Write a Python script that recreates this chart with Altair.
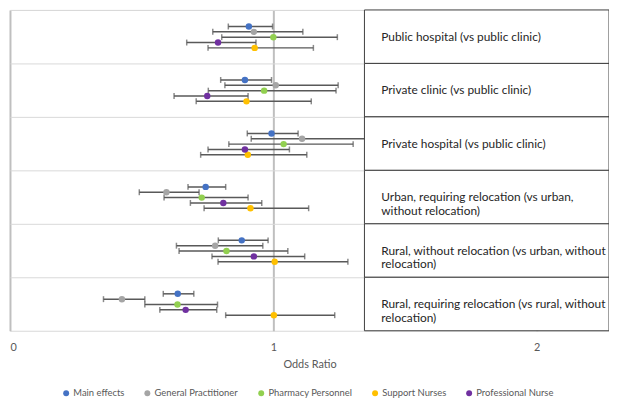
import altair as alt
import pandas as pd

rows = [
    "Public hospital (vs public clinic)",
    "Private clinic (vs public clinic)",
    "Private hospital (vs public clinic)",
    "Urban, requiring relocation (vs urban, without relocation)",
    "Rural, without relocation (vs urban, without relocation)",
    "Rural, requiring relocation (vs rural, without relocation)",
]
row_text = [
    "Public hospital (vs public clinic)",
    "Private clinic (vs public clinic)",
    "Private hospital (vs public clinic)",
    "Urban, requiring relocation (vs urban,\nwithout relocation)",
    "Rural, without relocation (vs urban, without\nrelocation)",
    "Rural, requiring relocation (vs rural, without\nrelocation)",
]

series = ["Main effects", "General Practitioner", "Pharmacy Personnel",
          "Support Nurses", "Professional Nurse"]
colors = ["#4472C4", "#A5A5A5", "#92D050", "#FFC000", "#7030A0"]
stack_order = ["Main effects", "General Practitioner", "Pharmacy Personnel",
               "Professional Nurse", "Support Nurses"]

# odds ratios and CI per series, one value per row (top to bottom)
main_or = [0.907, 0.892, 0.993, 0.743, 0.880, 0.637]
main_lo = [0.829, 0.800, 0.901, 0.676, 0.791, 0.582]
main_hi = [0.997, 0.993, 1.094, 0.819, 0.980, 0.698]

gp_or = [0.926, 1.009, 1.109, 0.594, 0.779, 0.425]
gp_lo = [0.770, 0.816, 0.916, 0.491, 0.632, 0.355]
gp_hi = [1.112, 1.246, 1.400, 0.718, 0.960, 0.512]

ph_or = [1.000, 0.965, 1.039, 0.728, 0.822, 0.636]
ph_lo = [0.804, 0.753, 0.831, 0.585, 0.642, 0.512]
ph_hi = [1.243, 1.238, 1.303, 0.904, 1.055, 0.788]

sn_or = [0.929, 0.898, 0.903, 0.913, 1.005, 1.002]
sn_lo = [0.752, 0.707, 0.724, 0.737, 0.790, 0.819]
sn_hi = [1.152, 1.144, 1.127, 1.134, 1.283, 1.233]

pn_or = [0.790, 0.749, 0.892, 0.810, 0.926, 0.667]
pn_lo = [0.671, 0.623, 0.752, 0.685, 0.767, 0.569]
pn_hi = [0.934, 0.904, 1.061, 0.956, 1.119, 0.785]

x_ticks = [0, 1, 2]

values = {
    "Main effects": (main_or, main_lo, main_hi),
    "General Practitioner": (gp_or, gp_lo, gp_hi),
    "Pharmacy Personnel": (ph_or, ph_lo, ph_hi),
    "Support Nurses": (sn_or, sn_lo, sn_hi),
    "Professional Nurse": (pn_or, pn_lo, pn_hi),
}

recs = []
for s in series:
    o, lo, hi = values[s]
    for i, r in enumerate(rows):
        recs.append({"row": r, "series": s, "or": o[i], "lo": lo[i], "hi": hi[i]})
df = pd.DataFrame(recs)
labels_df = pd.DataFrame({"row": rows, "label": row_text})

FONT = "Lato"
GRAY = "#595959"
W, H = 605, 324

xscale = alt.Scale(domain=[0, 2.2744], nice=False, zero=False)
yscale = alt.Scale(domain=rows, paddingInner=0, paddingOuter=0)
yoff = alt.YOffset("series:N", scale=alt.Scale(domain=stack_order, range=[14, 41],
                                               paddingInner=0, paddingOuter=0))

y_enc = alt.Y("row:N", sort=rows, scale=yscale,
              axis=alt.Axis(title=None, labels=False, ticks=False, domain=False,
                            grid=True, gridColor="#D9D9D9", bandPosition=0))

base = alt.Chart(df)

rules = base.mark_rule(color=GRAY, strokeWidth=1.5).encode(
    x=alt.X("lo:Q", scale=xscale,
            axis=alt.Axis(values=x_ticks, title="Odds Ratio", format="d",
                          grid=True, gridColor="#BFBFBF", gridWidth=2,
                          domain=False, ticks=False, labelPadding=11,
                          labelFont=FONT, labelFontSize=11, labelColor=GRAY,
                          titleFont=FONT, titleFontSize=11, titleFontWeight="normal",
                          titleColor=GRAY, titlePadding=6)),
    x2="hi:Q",
    y=y_enc,
    yOffset=yoff,
)

ticks_lo = base.mark_tick(color=GRAY, size=6, thickness=1.5).encode(
    x=alt.X("lo:Q", scale=xscale), y=alt.Y("row:N", sort=rows, scale=yscale), yOffset=yoff)
ticks_hi = base.mark_tick(color=GRAY, size=6, thickness=1.5).encode(
    x=alt.X("hi:Q", scale=xscale), y=alt.Y("row:N", sort=rows, scale=yscale), yOffset=yoff)

points = base.mark_circle(size=42, opacity=1).encode(
    x=alt.X("or:Q", scale=xscale),
    y=alt.Y("row:N", sort=rows, scale=yscale),
    yOffset=yoff,
    color=alt.Color("series:N", scale=alt.Scale(domain=series, range=colors),
                    legend=alt.Legend(title=None, orient="none", direction="horizontal",
                                      legendX=52, legendY=382, symbolType="circle",
                                      symbolSize=36, labelFont=FONT, labelFontSize=9.5,
                                      labelColor=GRAY, columnPadding=18, symbolOffset=0,
                                      labelOffset=2.5)),
)

boxes = alt.Chart(labels_df).mark_rect(fill="white", stroke="#3F3F3F", strokeWidth=1).encode(
    y=alt.Y("row:N", sort=rows, scale=yscale),
    x=alt.value(358), x2=alt.value(W),
)

texts = alt.Chart(labels_df).mark_text(align="left", baseline="middle", font=FONT,
                                       fontSize=12, color="#262626",
                                       lineBreak="\n", lineHeight=14).encode(
    y=alt.Y("row:N", sort=rows, scale=yscale),
    x=alt.value(375),
    text="label:N",
)

chart = alt.layer(rules, ticks_lo, ticks_hi, points, boxes, texts).properties(
    width=W, height=H,
    autosize=alt.AutoSizeParams(type="none"),
    padding={"left": 2, "top": 0, "right": 0, "bottom": 72},
).configure_view(stroke="#D9D9D9", strokeWidth=1)

chart.save("out.html", embed_options={"renderer": "svg", "actions": False})
